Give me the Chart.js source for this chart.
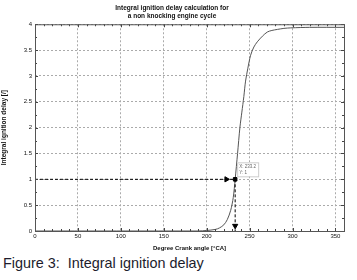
<!DOCTYPE html>
<html>
<head>
<meta charset="utf-8">
<script src="https://cdn.jsdelivr.net/npm/chart.js@4/dist/chart.umd.min.js"></script>
<style>
  body { margin: 0; background: #fff; }
  #wrap { position: relative; width: 357px; height: 252px; }
  .caption { position: absolute; left: 3px; top: 255px; margin: 0; font: 14.4px "Liberation Sans", Arial, sans-serif; color: #1c1c2c; white-space: pre; }
</style>
</head>
<body>
<div id="wrap"><canvas id="delayChart"></canvas></div>
<p class="caption">Figure 3:  Integral ignition delay</p>
<script>
const crankAngle = [0, 190, 200, 210, 215, 220, 224, 228, 231, 233.2, 236, 238.7, 241, 243.3, 245.3, 248, 251.2, 255, 259, 265, 270.7, 276, 282.4, 290, 298, 320, 360];
const ignitionDelay = [0, 0, 0.01, 0.03, 0.06, 0.12, 0.22, 0.4, 0.65, 1.0, 1.5, 2.0, 2.3, 2.6, 2.9, 3.15, 3.4, 3.56, 3.66, 3.77, 3.85, 3.88, 3.9, 3.92, 3.93, 3.94, 3.94];
const xTicks = [0, 50, 100, 150, 200, 250, 300, 350];
const tipX = 233.2;
const tipY = 1;

const font = '"Liberation Sans", Arial, sans-serif';

// inward tick marks + data tip box
const axisDecor = {
    id: 'axisDecor',
    afterDraw(chart) {
        const { ctx, chartArea: a, scales: { x, y } } = chart;
        ctx.save();
        ctx.strokeStyle = '#444';
        ctx.lineWidth = 1;
        ctx.beginPath();
        for (let v = 0; v <= 360; v += 10) {
            const px = Math.round(x.getPixelForValue(v)) + 0.5;
            const len = v % 50 === 0 ? 3 : 2;
            ctx.moveTo(px, a.bottom); ctx.lineTo(px, a.bottom - len);
            ctx.moveTo(px, a.top); ctx.lineTo(px, a.top + len);
        }
        for (let v = 0; v <= 4; v += 0.25) {
            const py = Math.round(y.getPixelForValue(v)) + 0.5;
            const len = (v * 2) % 1 === 0 ? 3 : 2;
            ctx.moveTo(a.left, py); ctx.lineTo(a.left + len, py);
            ctx.moveTo(a.right, py); ctx.lineTo(a.right - len, py);
        }
        ctx.stroke();
        ctx.strokeStyle = '#555';
        ctx.strokeRect(a.left + 0.5, a.top + 0.5, a.right - a.left, a.bottom - a.top);

        // data tip
        const bx = x.getPixelForValue(tipX) + 2;
        const by = y.getPixelForValue(tipY) - 17;
        ctx.fillStyle = '#fff';
        ctx.strokeStyle = '#ccc';
        ctx.fillRect(bx, by, 21, 14);
        ctx.strokeRect(bx + 0.5, by + 0.5, 21, 14);
        ctx.fillStyle = '#666';
        ctx.font = '4.5px ' + font;
        ctx.textBaseline = 'top';
        ctx.fillText('X: ' + tipX, bx + 2, by + 2);
        ctx.fillText('Y: ' + tipY, bx + 2, by + 8);
        ctx.restore();
    }
};

new Chart(document.getElementById('delayChart'), {
    type: 'line',
    data: {
        datasets: [
            {
                label: 'delay',
                data: crankAngle.map((v, i) => ({ x: v, y: ignitionDelay[i] })),
                borderColor: '#555',
                borderWidth: 1,
                pointRadius: 0,
                tension: 0.3,
                order: 2
            },
            {
                label: 'hArrow',
                data: [{ x: 0, y: tipY }, { x: 223, y: tipY }, { x: tipX, y: tipY }],
                borderColor: '#000',
                borderWidth: 1,
                borderDash: [3, 2],
                pointStyle: 'triangle',
                rotation: 90,
                pointRadius: [0, 3, 0],
                pointBackgroundColor: '#000',
                pointBorderColor: '#000',
                order: 1
            },
            {
                label: 'vArrow',
                data: [{ x: tipX, y: tipY }, { x: tipX, y: 0.1 }, { x: tipX, y: 0 }],
                borderColor: '#000',
                borderWidth: 1,
                borderDash: [3, 2],
                pointStyle: 'triangle',
                rotation: 180,
                pointRadius: [0, 3, 0],
                pointBackgroundColor: '#000',
                pointBorderColor: '#000',
                order: 1
            },
            {
                label: 'marker',
                data: [{ x: tipX, y: tipY }],
                pointStyle: 'rect',
                pointRadius: 2.5,
                pointBackgroundColor: '#000',
                pointBorderColor: '#000',
                showLine: false,
                order: 0
            }
        ]
    },
    options: {
        responsive: true,
        maintainAspectRatio: false,
        animation: false,
        layout: { padding: { top: 0, right: 13, left: 0, bottom: 0 } },
        plugins: {
            legend: { display: false },
            tooltip: { enabled: false },
            title: {
                display: true,
                text: ['Integral ignition delay calculation for', 'a non knocking engine cycle'],
                color: '#111',
                font: { size: 6.5, family: font, weight: 'bold', lineHeight: 1.25 },
                padding: { top: 4, bottom: 4 },
                align: 'center'
            }
        },
        scales: {
            x: {
                type: 'linear',
                min: 0,
                max: 360,
                afterBuildTicks: s => { s.ticks = xTicks.map(v => ({ value: v })); },
                afterFit: s => { s.height = 21; },
                ticks: { color: '#111', font: { size: 6, family: font }, padding: 2, maxRotation: 0, autoSkip: false },
                grid: { color: '#aaa', drawTicks: false },
                border: { display: false, dash: [2, 2] },
                title: { display: true, text: 'Degree Crank angle [°CA]', color: '#111', font: { size: 6, family: font, weight: 'bold' }, padding: { top: 1, bottom: 0 } }
            },
            y: {
                min: 0,
                max: 4,
                afterFit: s => { s.width = 35; },
                ticks: { stepSize: 0.5, color: '#111', font: { size: 6, family: font }, padding: 3, autoSkip: false, callback: v => String(v) },
                grid: { color: '#aaa', drawTicks: false },
                border: { display: false, dash: [2, 2] },
                title: { display: true, text: 'Integral ignition delay [/]', color: '#111', font: { size: 6.5, family: font, weight: 'bold' }, padding: { top: 0, bottom: 2 } }
            }
        }
    },
    plugins: [axisDecor]
});
</script>
</body>
</html>
